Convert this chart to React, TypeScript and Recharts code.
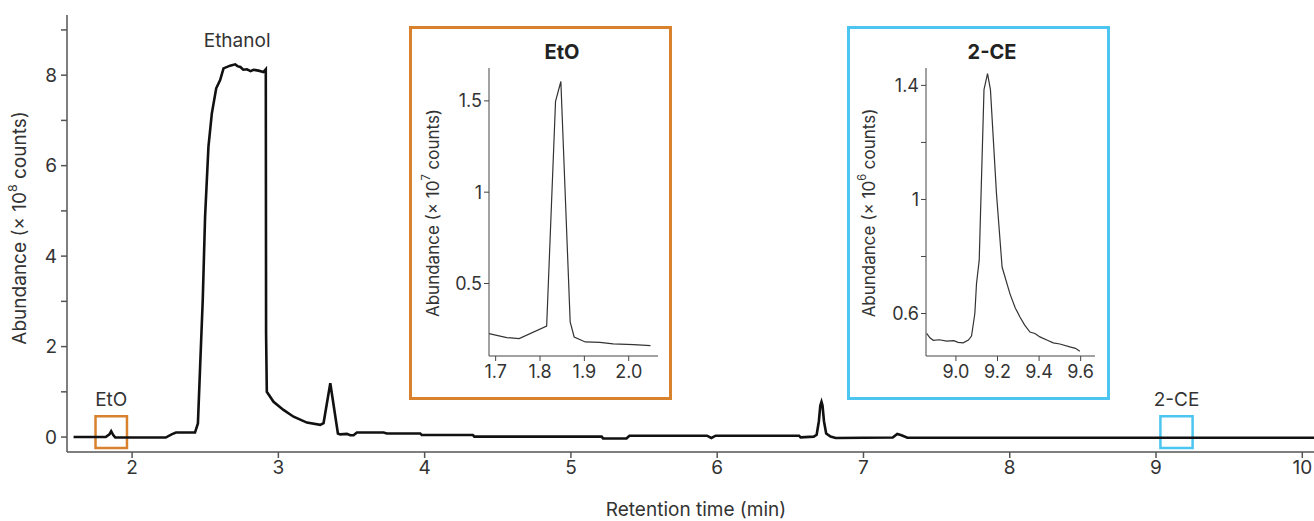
import { LineChart, Line, XAxis, YAxis, ReferenceArea, ReferenceDot } from "recharts"

// main chromatogram (retention time in min, abundance in 1e8 counts)
const mainTime = [
  1.6, 1.82, 1.845, 1.857, 1.87, 1.885, 2.23, 2.27, 2.3, 2.43, 2.45, 2.465, 2.483, 2.499, 2.522,
  2.545, 2.575, 2.602, 2.625, 2.67, 2.705, 2.72, 2.74, 2.76, 2.785, 2.81, 2.83, 2.864, 2.898,
  2.914, 2.916, 2.921, 2.967, 3.035, 3.104, 3.195, 3.286, 3.309, 3.355, 3.407, 3.423, 3.469,
  3.491, 3.514, 3.537, 3.719, 3.742, 3.97, 3.98, 4.33, 4.34, 5.21, 5.22, 5.38, 5.4, 5.93, 5.96,
  5.99, 6.56, 6.57, 6.66, 6.68, 6.695, 6.705, 6.713, 6.72, 6.73, 6.745, 6.775, 6.81, 7.2, 7.231,
  7.26, 7.3, 10.1,
]
const mainAbundance = [
  0, 0, 0.06, 0.13, 0.05, -0.01, -0.01, 0.06, 0.1, 0.1, 0.3, 1.55, 3.03, 4.87, 6.42,
  7.15, 7.71, 7.89, 8.15, 8.21, 8.24, 8.2, 8.18, 8.12, 8.13, 8.09, 8.12, 8.1, 8.07,
  8.13, 2.29, 1.0, 0.78, 0.6, 0.45, 0.32, 0.27, 0.31, 1.19, 0.08, 0.06, 0.07,
  0.04, 0.04, 0.1, 0.1, 0.08, 0.08, 0.045, 0.045, 0.01, 0.01, -0.03, -0.03, 0.03, 0.03, -0.02,
  0.03, 0.03, -0.005, 0.01, 0.05, 0.35, 0.7, 0.78, 0.7, 0.35, 0.08, 0.01, -0.02, -0.01, 0.07,
  0.04, -0.015, -0.015,
]
const mainXTicks = [2, 3, 4, 5, 6, 7, 8, 9, 10]
const mainYTicks = [0, 1, 2, 3, 4, 5, 6, 7, 8, 9]

// EtO inset (1e7 counts)
const etoTime = [1.685, 1.725, 1.753, 1.815, 1.835, 1.847, 1.868, 1.877, 1.902, 1.935, 1.965, 2.011, 2.049]
const etoAbundance = [0.226, 0.204, 0.198, 0.267, 1.497, 1.606, 0.29, 0.207, 0.18, 0.178, 0.169, 0.165, 0.16]
const etoXTicks = [1.7, 1.8, 1.9, 2.0]
const etoYTicks = [0.5, 1, 1.5]

// 2-CE inset (1e6 counts)
const ceTime = [
  8.859, 8.875, 8.891, 8.92, 8.955, 8.99, 9.01, 9.035, 9.06, 9.075, 9.091, 9.099, 9.112, 9.135,
  9.152, 9.166, 9.195, 9.222, 9.26, 9.285, 9.308, 9.33, 9.356, 9.38, 9.404, 9.44, 9.468, 9.5,
  9.548, 9.575, 9.596,
]
const ceAbundance = [
  0.53, 0.515, 0.506, 0.508, 0.503, 0.505, 0.499, 0.497, 0.507, 0.521, 0.6, 0.705, 0.787, 1.385,
  1.441, 1.385, 1.021, 0.763, 0.669, 0.62, 0.588, 0.56, 0.535, 0.53, 0.518, 0.506, 0.497, 0.493,
  0.483, 0.478, 0.468,
]
const ceXTicks = [9.0, 9.2, 9.4, 9.6]
const ceYTicks = [0.6, 0.8, 1, 1.2, 1.4]
const ceYLabels = ["0.6", "", "1", "", "1.4"]

const mainData = mainTime.map((t, i) => ({ t, v: mainAbundance[i] }))
const etoData = etoTime.map((t, i) => ({ t, v: etoAbundance[i] }))
const ceData = ceTime.map((t, i) => ({ t, v: ceAbundance[i] }))

const FONT = "Inter, 'Noto Sans', sans-serif"
const TEXT = "#333"
const AXIS = "#555"
const ORANGE = "#d9822e"
const CYAN = "#4cc6f0"

function YLabel({ x, y, exp, size }: { x: number; y: number; exp: string; size: number }) {
  return (
    <text
      x={x}
      y={y}
      transform={`rotate(-90, ${x}, ${y})`}
      textAnchor="middle"
      dominantBaseline="central"
      fill={TEXT}
      fontSize={size}
      fontFamily={FONT}
    >
      Abundance (× 10
      <tspan dy={-7} fontSize={size * 0.65}>{exp}</tspan>
      <tspan dy={7}> counts)</tspan>
    </text>
  )
}

function Inset({
  data, xDomain, yDomain, xTicks, yTicks, yFormat, color, left, title, titleCenter, exp, yAxisWidth, right, labelX,
}: any) {
  return (
    <div
      style={{
        position: "absolute",
        left,
        top: 26,
        width: 257,
        height: 368,
        border: `3px solid ${color}`,
        background: "#fff",
      }}
    >
      <div
        style={{
          position: "absolute",
          left: titleCenter - 60,
          width: 120,
          top: 11,
          textAlign: "center",
          fontWeight: 700,
          fontSize: 20,
          color: "#222",
          fontFamily: FONT,
        }}
      >
        {title}
      </div>
      <LineChart width={257} height={368} data={data} margin={{ top: 39, right, bottom: 0, left: 0 }}>
        <XAxis
          dataKey="t"
          type="number"
          domain={xDomain}
          ticks={xTicks}
          allowDataOverflow
          height={41}
          tickFormatter={(v: number) => v.toFixed(1)}
          tick={{ fill: TEXT, fontSize: 18, fontFamily: FONT }}
          axisLine={{ stroke: "#444", strokeWidth: 1 }}
          tickLine={{ stroke: "#444", strokeWidth: 1 }}
          tickSize={5}
          tickMargin={4}
        />
        <YAxis
          type="number"
          domain={yDomain}
          ticks={yTicks}
          allowDataOverflow
          width={yAxisWidth}
          tickFormatter={yFormat}
          tick={{ fill: TEXT, fontSize: 18, fontFamily: FONT }}
          axisLine={{ stroke: "#444", strokeWidth: 1 }}
          tickLine={{ stroke: "#444", strokeWidth: 1 }}
          tickSize={5}
          label={{ content: () => <YLabel x={labelX} y={184} exp={exp} size={17} /> }}
        />
        <Line dataKey="v" type="linear" stroke="#333" strokeWidth={1.2} dot={false} isAnimationActive={false} />
      </LineChart>
    </div>
  )
}

export default function App() {
  return (
    <div style={{ position: "absolute", left: 0, top: 0, width: 1314, height: 521, background: "#fff", fontFamily: FONT }}>
      <LineChart width={1314} height={521} data={mainData} margin={{ top: 15, right: 0, bottom: 0, left: 0 }}>
        <XAxis
          dataKey="t"
          type="number"
          domain={[1.555, 10.08]}
          ticks={mainXTicks}
          allowDataOverflow
          height={69}
          tick={{ fill: TEXT, fontSize: 19, fontFamily: FONT }}
          axisLine={{ stroke: AXIS, strokeWidth: 1.5 }}
          tickLine={{ stroke: AXIS, strokeWidth: 1.5 }}
          tickSize={6}
          tickMargin={3}
          label={{
            content: () => (
              <text x={696} y={509} textAnchor="middle" dominantBaseline="central" fill={TEXT} fontSize={19} fontFamily={FONT}>
                Retention time (min)
              </text>
            ),
          }}
        />
        <YAxis
          type="number"
          domain={[-0.33, 9.33]}
          ticks={mainYTicks}
          allowDataOverflow
          width={67}
          tickFormatter={(v: number) => (v % 2 === 0 ? String(v) : "")}
          tick={{ fill: TEXT, fontSize: 19, fontFamily: FONT }}
          axisLine={{ stroke: AXIS, strokeWidth: 1.5 }}
          tickLine={{ stroke: AXIS, strokeWidth: 1.5 }}
          tickSize={6}
          tickMargin={4}
          label={{ content: () => <YLabel x={19} y={228} exp="8" size={19} /> }}
        />
        <ReferenceArea
          x1={1.75}
          x2={1.965}
          y1={-0.24}
          y2={0.46}
          fill="none"
          stroke={ORANGE}
          strokeWidth={2.5}
          label={{ value: "EtO", position: "top", offset: 10, fill: TEXT, fontSize: 19, fontFamily: FONT }}
        />
        <ReferenceArea
          x1={9.03}
          x2={9.25}
          y1={-0.24}
          y2={0.46}
          fill="none"
          stroke={CYAN}
          strokeWidth={2.5}
          label={{ value: "2-CE", position: "top", offset: 10, fill: TEXT, fontSize: 19, fontFamily: FONT }}
        />
        <ReferenceDot
          x={2.718}
          y={8.77}
          r={0}
          fill="none"
          stroke="none"
          label={{ value: "Ethanol", position: "center", fill: TEXT, fontSize: 19, fontFamily: FONT }}
        />
        <Line dataKey="v" type="linear" stroke="#111" strokeWidth={2.6} dot={false} isAnimationActive={false} />
      </LineChart>
      <Inset
        data={etoData}
        xDomain={[1.685, 2.066]}
        yDomain={[0.103, 1.68]}
        xTicks={etoXTicks}
        yTicks={etoYTicks}
        yFormat={(v: number) => String(v)}
        color={ORANGE}
        left={409}
        title="EtO"
        titleCenter={150}
        exp="7"
        yAxisWidth={77}
        right={11}
        labelX={21}
      />
      <Inset
        data={ceData}
        xDomain={[8.856, 9.669]}
        yDomain={[0.451, 1.461]}
        xTicks={ceXTicks}
        yTicks={ceYTicks}
        yFormat={(_v: number, i: number) => ceYLabels[i]}
        color={CYAN}
        left={847}
        title="2-CE"
        titleCenter={142}
        exp="6"
        yAxisWidth={76}
        right={12}
        labelX={19}
      />
    </div>
  )
}
